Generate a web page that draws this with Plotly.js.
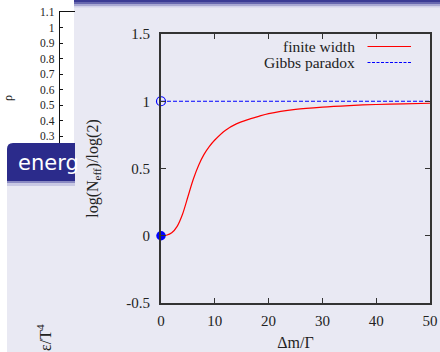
<!DOCTYPE html>
<html>
<head>
<meta charset="utf-8">
<script src="https://cdn.plot.ly/plotly-3.0.1.min.js"></script>
<style>
  html, body { margin: 0; padding: 0; background: #ffffff; }
  #chart { width: 440px; height: 352px; }
</style>
</head>
<body>
<div id="chart"></div>
<script>
// ---- data ----
var deltaM = [0, 1, 2, 3, 4, 5, 6, 7, 8, 9, 10, 12, 14, 16, 18, 20, 25, 30, 35, 40, 45, 50];
var finiteWidth = [0, 0.004, 0.022, 0.07, 0.16, 0.29, 0.42, 0.525, 0.605, 0.665, 0.712, 0.785, 0.832, 0.862, 0.886, 0.908, 0.94, 0.957, 0.968, 0.976, 0.981, 0.985];
var gibbsX = [0, 50];
var gibbsY = [1, 1];
var filledPointX = [0];
var filledPointY = [0];
var openPointX = [0];
var openPointY = [1];
var xTickVals = [0, 10, 20, 30, 40, 50];
var xTickText = ['0', '10', '20', '30', '40', '50'];
var yTickVals = [-0.5, 0, 0.5, 1, 1.5];
var yTickText = ['-0.5', '0', '0.5', '1', '1.5'];
// background slide figure (partly hidden)
var rhoTickVals = [0.3, 0.4, 0.5, 0.6, 0.7, 0.8, 0.9, 1.0, 1.1];
var rhoTickText = ['0.3', '0.4', '0.5', '0.6', '0.7', '0.8', '0.9', '1', '1.1'];

// ---- pixel helpers (figure: margin l0 r10 t0 b49 -> plot area 430 x 303) ----
var PW = 430, PH = 303;
function px(x) { return x / PW; }
function py(y) { return (PH - y) / PH; }

var serif = 'Liberation Serif, Times New Roman, serif';
var lav = '#e9e9f3';
var frame = '#333333';

var traces = [
  { x: deltaM, y: finiteWidth, type: 'scatter', mode: 'lines', xaxis: 'x', yaxis: 'y',
    line: { color: '#ff0000', width: 1.2, shape: 'spline', smoothing: 0.8 }, name: 'finite width', hoverinfo: 'skip' },
  { x: gibbsX, y: gibbsY, type: 'scatter', mode: 'lines', xaxis: 'x', yaxis: 'y',
    line: { color: '#0000ff', width: 1, dash: '4px,2px' }, name: 'Gibbs paradox', hoverinfo: 'skip' },
  { x: filledPointX, y: filledPointY, type: 'scatter', mode: 'markers', xaxis: 'x', yaxis: 'y', cliponaxis: false,
    marker: { color: '#0000ff', size: 9.5, line: { width: 0 } }, hoverinfo: 'skip' },
  { x: openPointX, y: openPointY, type: 'scatter', mode: 'markers', xaxis: 'x', yaxis: 'y', cliponaxis: false,
    marker: { symbol: 'circle-open', color: '#0000ff', size: 9, line: { width: 1.2, color: '#0000ff' } }, hoverinfo: 'skip' },
  { x: [0.5], y: [0.7], type: 'scatter', mode: 'markers', xaxis: 'x2', yaxis: 'y2', hoverinfo: 'skip',
    marker: { size: 1, opacity: 0 } }
];

var shapes = [
  // lavender slide panel
  { type: 'rect', xref: 'paper', yref: 'paper', layer: 'below', x0: px(74), x1: px(441), y0: py(0), y1: py(353), fillcolor: lav, line: { width: 0 } },
  { type: 'rect', xref: 'paper', yref: 'paper', layer: 'below', x0: px(7), x1: px(75), y0: py(184), y1: py(353), fillcolor: lav, line: { width: 0 } },
  // banner fade
  { type: 'rect', xref: 'paper', yref: 'paper', layer: 'below', x0: px(7), x1: px(75), y0: py(186), y1: py(181), fillcolor: '#c9c9e4', line: { width: 0 } },
  { type: 'rect', xref: 'paper', yref: 'paper', layer: 'below', x0: px(7), x1: px(75), y0: py(183), y1: py(180), fillcolor: '#8a8ac2', line: { width: 0 } },
  // banner with rounded corner
  { type: 'path', xref: 'paper', yref: 'paper', layer: 'below',
    path: 'M ' + px(7) + ',' + py(181) + ' L ' + px(7) + ',' + py(149) + ' Q ' + px(7) + ',' + py(143) + ' ' + px(13) + ',' + py(143) +
          ' L ' + px(75) + ',' + py(143) + ' L ' + px(75) + ',' + py(181) + ' Z',
    fillcolor: '#2b2b8b', line: { width: 0 } },
  // top band gradient
  { type: 'rect', xref: 'paper', yref: 'paper', layer: 'below', x0: px(74), x1: px(441), y0: py(2), y1: py(-1), fillcolor: '#3c3c94', line: { width: 0 } },
  { type: 'rect', xref: 'paper', yref: 'paper', layer: 'below', x0: px(74), x1: px(441), y0: py(4), y1: py(2), fillcolor: '#6868ae', line: { width: 0 } },
  { type: 'rect', xref: 'paper', yref: 'paper', layer: 'below', x0: px(74), x1: px(441), y0: py(6), y1: py(4), fillcolor: '#a9a9d2', line: { width: 0 } },
  { type: 'rect', xref: 'paper', yref: 'paper', layer: 'below', x0: px(74), x1: px(441), y0: py(7.5), y1: py(6), fillcolor: '#d3d3e9', line: { width: 0 } },
  // legend samples
  { type: 'line', xref: 'paper', yref: 'paper', x0: px(367.5), x1: px(411), y0: py(46.5), y1: py(46.5), line: { color: '#ff0000', width: 1.2 } },
  { type: 'line', xref: 'paper', yref: 'paper', x0: px(367.5), x1: px(411), y0: py(62.5), y1: py(62.5), line: { color: '#0000ff', width: 1, dash: '3px,1.5px' } }
];

var annotations = [
  { xref: 'paper', yref: 'paper', x: px(357), y: py(46.5), xanchor: 'right', yanchor: 'middle', showarrow: false,
    text: 'finite width', font: { family: serif, size: 15.5, color: '#222' } },
  { xref: 'paper', yref: 'paper', x: px(357), y: py(62.5), xanchor: 'right', yanchor: 'middle', showarrow: false,
    text: 'Gibbs paradox', font: { family: serif, size: 15.5, color: '#222' } },
  { xref: 'paper', yref: 'paper', x: px(16), y: py(163), xanchor: 'left', yanchor: 'middle', showarrow: false,
    text: 'energ', font: { family: 'DejaVu Sans, sans-serif', size: 21, color: '#ffffff' } },
  { xref: 'paper', yref: 'paper', x: px(8), y: py(98), xanchor: 'center', yanchor: 'middle', showarrow: false, textangle: -90,
    text: 'ρ', font: { family: serif, size: 12, color: '#222' } },
  { xref: 'paper', yref: 'paper', x: px(44), y: py(338), xanchor: 'center', yanchor: 'middle', showarrow: false, textangle: -90,
    text: 'ε/T<sup>4</sup>', font: { family: serif, size: 16, color: '#222' } }
];

var layout = {
  width: 440, height: 352,
  margin: { l: 0, r: 10, t: 0, b: 49 },
  paper_bgcolor: '#ffffff',
  plot_bgcolor: 'rgba(0,0,0,0)',
  showlegend: false,
  xaxis: {
    domain: [px(161), 1], anchor: 'y', range: [0, 50],
    showline: true, linecolor: frame, linewidth: 2, mirror: 'ticks',
    ticks: 'inside', ticklen: 5, tickwidth: 1, tickcolor: frame,
    tickvals: xTickVals, ticktext: xTickText, ticklabelstandoff: 3,
    showgrid: false, zeroline: false,
    tickfont: { family: serif, size: 15, color: '#222' },
    title: { text: 'Δm/Γ', font: { family: serif, size: 16, color: '#222' }, standoff: 9 }
  },
  yaxis: {
    domain: [0, py(34)], anchor: 'x', range: [-0.5, 1.5],
    showline: true, linecolor: frame, linewidth: 2, mirror: 'ticks',
    ticks: 'inside', ticklen: 5, tickwidth: 1, tickcolor: frame,
    tickvals: yTickVals, ticktext: yTickText, ticklabelstandoff: 6,
    showgrid: false, zeroline: false,
    tickfont: { family: serif, size: 15, color: '#222' },
    title: { text: 'log(N<sub>eff</sub>)/log(2)', font: { family: serif, size: 16, color: '#222' }, standoff: 24 }
  },
  xaxis2: {
    domain: [px(60), px(75)], anchor: 'y2', side: 'top', range: [0, 1],
    showline: true, linecolor: '#111', linewidth: 1.3,
    ticks: '', showticklabels: false, showgrid: false, zeroline: false
  },
  yaxis2: {
    domain: [py(143), py(12)], anchor: 'x2', range: [1.1 - (131 / 155.5), 1.1],
    showline: true, linecolor: '#111', linewidth: 1.3,
    ticks: 'inside', ticklen: 3, tickcolor: '#111',
    tickvals: rhoTickVals, ticktext: rhoTickText, ticklabelstandoff: 2,
    showgrid: false, zeroline: false,
    tickfont: { family: serif, size: 11.5, color: '#222' }
  },
  shapes: shapes,
  annotations: annotations
};

Plotly.newPlot('chart', traces, layout, { displayModeBar: false, staticPlot: true });
</script>
</body>
</html>
